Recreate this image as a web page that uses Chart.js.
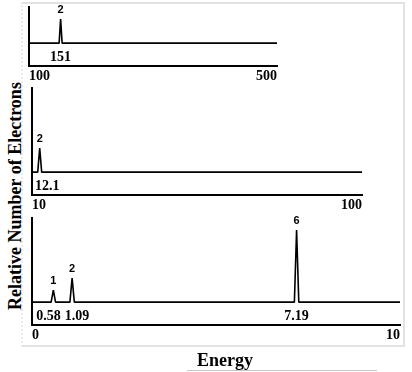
<!DOCTYPE html>
<html>
<head>
<meta charset="utf-8">
<script src="https://cdn.jsdelivr.net/npm/chart.js@4.4.0/dist/chart.umd.min.js"></script>
<style>
  body { margin: 0; background: #fff; }
  #wrap { position: relative; width: 412px; height: 372px; overflow: hidden; }
  .frame { position: absolute; left: 21px; top: 2px; width: 384px; height: 345px; box-sizing: border-box;
           border: 2px solid #e2e2e2; border-left: 2px dotted #ececec; }
  canvas { position: absolute; }
  #ytitle { position: absolute; left: -135px; top: 186px; width: 300px; height: 20px; line-height: 20px;
            text-align: center; transform: rotate(-90deg); font: bold 18px "Liberation Serif", "Times New Roman", serif; }
  #xtitle { position: absolute; left: 175px; top: 350px; width: 100px; height: 20px; line-height: 20px;
            text-align: center; font: bold 18px "Liberation Serif", "Times New Roman", serif; }
  #xline { position: absolute; left: 187px; top: 370px; width: 190px; border-top: 1px solid #c8c8c8; }
</style>
</head>
<body>
<div id="wrap">
  <div class="frame"></div>
  <canvas id="p0"></canvas>
  <canvas id="p1"></canvas>
  <canvas id="p2"></canvas>
  <div id="ytitle">Relative Number of Electrons</div>
  <div id="xtitle">Energy</div>
  <div id="xline"></div>
</div>
<script>
// energy range of each panel (top, middle, bottom)
const panelMin = [100, 10, 0];
const panelMax = [500, 100, 10];
const panelYMax = [3, 7, 7];
const yBottom = -1.9;

// peaks: energy position, relative number, printed energy
const energies = [[151], [12.1], [0.58, 1.09, 7.19]];
const counts = [[2], [2], [1, 2, 6]];
const energyLabels = [['151'], ['12.1'], ['0.58', '1.09', '7.19']];

// chart-area placement of each panel in the page
const boxes = [
    { left: 29, top: 7, right: 277, bottom: 66 },
    { left: 32, top: 88, right: 362, bottom: 195 },
    { left: 32, top: 218, right: 400, bottom: 325 }
];

const serif = '"Liberation Serif", "Times New Roman", serif';
const sans = '"Liberation Sans", Arial, sans-serif';

function spectrum(i) {
    const hw = (panelMax[i] - panelMin[i]) * 0.006;
    const pts = [{ x: panelMin[i], y: 0 }];
    energies[i].forEach((e, k) => {
        pts.push({ x: e - hw, y: 0 }, { x: e, y: counts[i][k] }, { x: e + hw, y: 0 });
    });
    pts.push({ x: panelMax[i], y: 0 });
    return pts;
}

const peakLabels = {
    id: 'peakLabels',
    afterDatasetsDraw(chart, args, opts) {
        const { ctx, chartArea } = chart;
        const x = chart.scales.x, y = chart.scales.y;
        const i = opts.panel;
        ctx.save();
        ctx.fillStyle = '#000';
        ctx.textAlign = 'center';
        ctx.textBaseline = 'middle';

        ctx.font = 'bold 11px ' + sans;
        energies[i].forEach((e, k) => {
            ctx.fillText(String(counts[i][k]), x.getPixelForValue(e), y.getPixelForValue(counts[i][k]) - 9);
        });

        ctx.font = 'bold 14px ' + serif;
        const items = energyLabels[i].map((t, k) => {
            const w = ctx.measureText(t).width;
            let cx = x.getPixelForValue(energies[i][k]);
            cx = Math.max(cx, chartArea.left + 3 + w / 2);
            cx = Math.min(cx, chartArea.right - 3 - w / 2);
            return { t, w, cx };
        });
        // push neighbours apart when they overlap
        for (let k = 1; k < items.length; k++) {
            const a = items[k - 1], b = items[k];
            const need = (a.w + b.w) / 2 + 4 - (b.cx - a.cx);
            if (need > 0) { a.cx -= need / 2; b.cx += need / 2; }
        }
        items.forEach(it => ctx.fillText(it.t, it.cx, y.getPixelForValue(-1.2)));
        ctx.restore();
    }
};

boxes.forEach((b, i) => {
    const cv = document.getElementById('p' + i);
    const w = b.right - b.left + 8;
    const h = b.bottom - b.top + 4 + 20 + 6;
    cv.width = w; cv.height = h;
    cv.style.left = (b.left - 4) + 'px';
    cv.style.top = (b.top - 4) + 'px';
    cv.style.width = w + 'px';
    cv.style.height = h + 'px';

    new Chart(cv.getContext('2d'), {
        type: 'scatter',
        data: {
            datasets: [{
                data: spectrum(i),
                showLine: true,
                borderColor: '#000',
                borderWidth: 1.6,
                borderJoinStyle: 'bevel',
                pointRadius: 0,
                tension: 0
            }]
        },
        options: {
            responsive: false,
            animation: false,
            devicePixelRatio: 1,
            layout: { padding: { left: 4, right: 4, top: 4, bottom: 6 } },
            plugins: {
                legend: { display: false },
                tooltip: { enabled: false },
                peakLabels: { panel: i }
            },
            scales: {
                x: {
                    type: 'linear',
                    min: panelMin[i],
                    max: panelMax[i],
                    grid: { display: false, drawTicks: false },
                    border: { display: true, color: '#000', width: 2 },
                    ticks: {
                        align: 'inner', autoSkip: false, maxRotation: 0, padding: 2,
                        color: '#000', font: { family: serif, size: 14, weight: 'bold' }
                    },
                    afterBuildTicks(axis) { axis.ticks = [{ value: panelMin[i] }, { value: panelMax[i] }]; },
                    afterFit(axis) { axis.height = 20; }
                },
                y: {
                    min: yBottom,
                    max: panelYMax[i],
                    grid: { display: false, drawTicks: false },
                    ticks: { display: false },
                    border: { display: true, color: '#000', width: 2 },
                    afterFit(axis) { axis.width = 0; }
                }
            }
        },
        plugins: [peakLabels]
    });
});
</script>
</body>
</html>
